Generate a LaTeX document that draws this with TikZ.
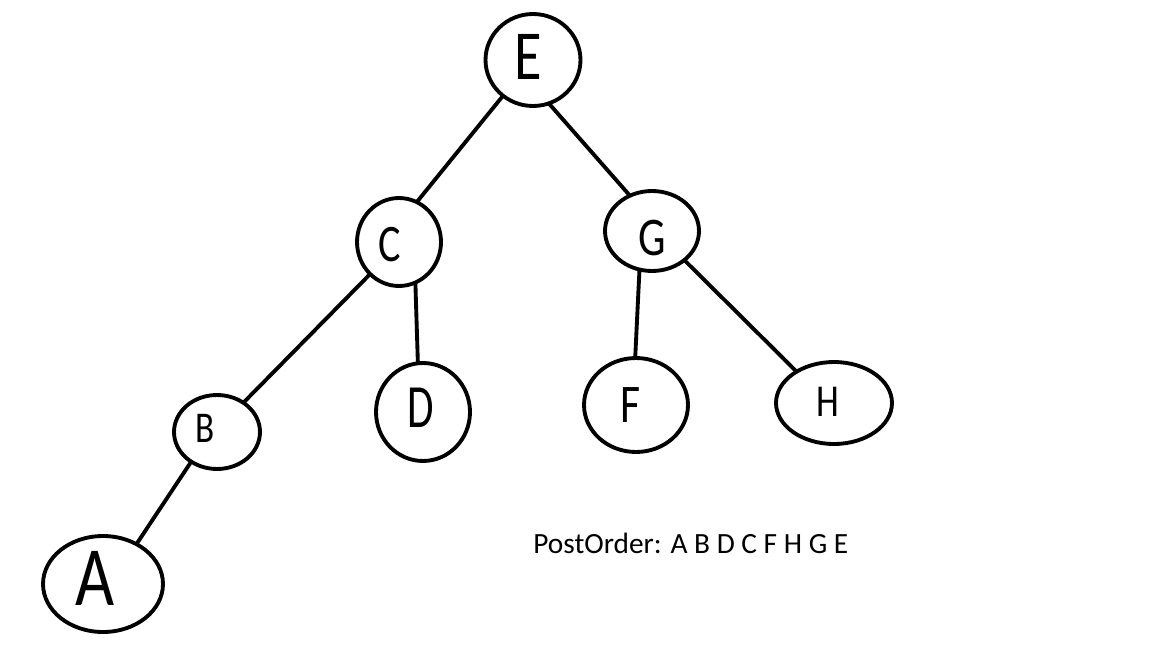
\documentclass[tikz,border=0pt]{standalone}
\usepackage{fontspec}
\setmainfont{Carlito}
\usetikzlibrary{shapes.geometric}
\begin{document}
\begin{tikzpicture}[x=0.02cm,y=-0.02cm,
  vert/.style={ellipse,draw=black,line width=2.2pt,inner sep=0pt,outer sep=0pt},
  edge/.style={draw=black,line width=2.2pt},
  letter/.style={inner sep=0pt,text=black}]
\useasboundingbox[fill=white] (0,0) rectangle (1152,669);

% vertices
\node[vert,minimum width=1.90cm,minimum height=1.84cm] (E) at (533,60) {};
\node[vert,minimum width=1.68cm,minimum height=1.76cm] (C) at (399,242) {};
\node[vert,minimum width=1.88cm,minimum height=1.60cm] (G) at (652,231) {};
\node[vert,minimum width=1.72cm,minimum height=1.48cm] (B) at (217,432) {};
\node[vert,minimum width=1.88cm,minimum height=1.96cm] (D) at (423,412) {};
\node[vert,minimum width=2.08cm,minimum height=1.88cm] (F) at (636,405) {};
\node[vert,minimum width=2.32cm,minimum height=1.64cm] (H) at (834,403) {};
\node[vert,minimum width=2.40cm,minimum height=1.92cm] (A) at (103,584) {};

% vertex letters (narrowed, like hand lettering)
\node[letter,font=\fontsize{40}{40}\selectfont] (Et) at (528,57) {\scalebox{0.8}[1]{E}};
\node[letter,font=\fontsize{30}{30}\selectfont] (Ct) at (390,245) {\scalebox{0.8}[1]{C}};
\node[letter,font=\fontsize{31}{31}\selectfont] (Gt) at (652,238) {\scalebox{0.8}[1]{G}};
\node[letter,font=\fontsize{25}{25}\selectfont] (Bt) at (205,428) {\scalebox{0.8}[1]{B}};
\node[letter,font=\fontsize{35}{35}\selectfont] (Dt) at (421,408) {\scalebox{0.7}[1]{D}};
\node[letter,font=\fontsize{31}{31}\selectfont] (Ft) at (630,405) {\scalebox{0.8}[1]{F}};
\node[letter,font=\fontsize{26}{26}\selectfont] (Ht) at (828,402) {\scalebox{0.8}[1]{H}};
\node[letter,font=\fontsize{48}{48}\selectfont] (At) at (95,578) {\scalebox{0.8}[1]{A}};

% edges
\draw[edge] (E.230) -- (C.66);
\draw[edge] (E.290) -- (G.122);
\draw[edge] (C.228) -- (B.48);
\draw[edge] (C.292) -- (D.96);
\draw[edge] (G.252) -- (F.91);
\draw[edge] (G.318) -- (H.140);
\draw[edge] (B.229) -- (A.50);

% traversal result
\node[anchor=base west,inner sep=0pt,font=\fontsize{16.7}{18}\selectfont] (post) at (533,553)
  {PostOrder: A B D C F H G E};
\end{tikzpicture}
\end{document}
